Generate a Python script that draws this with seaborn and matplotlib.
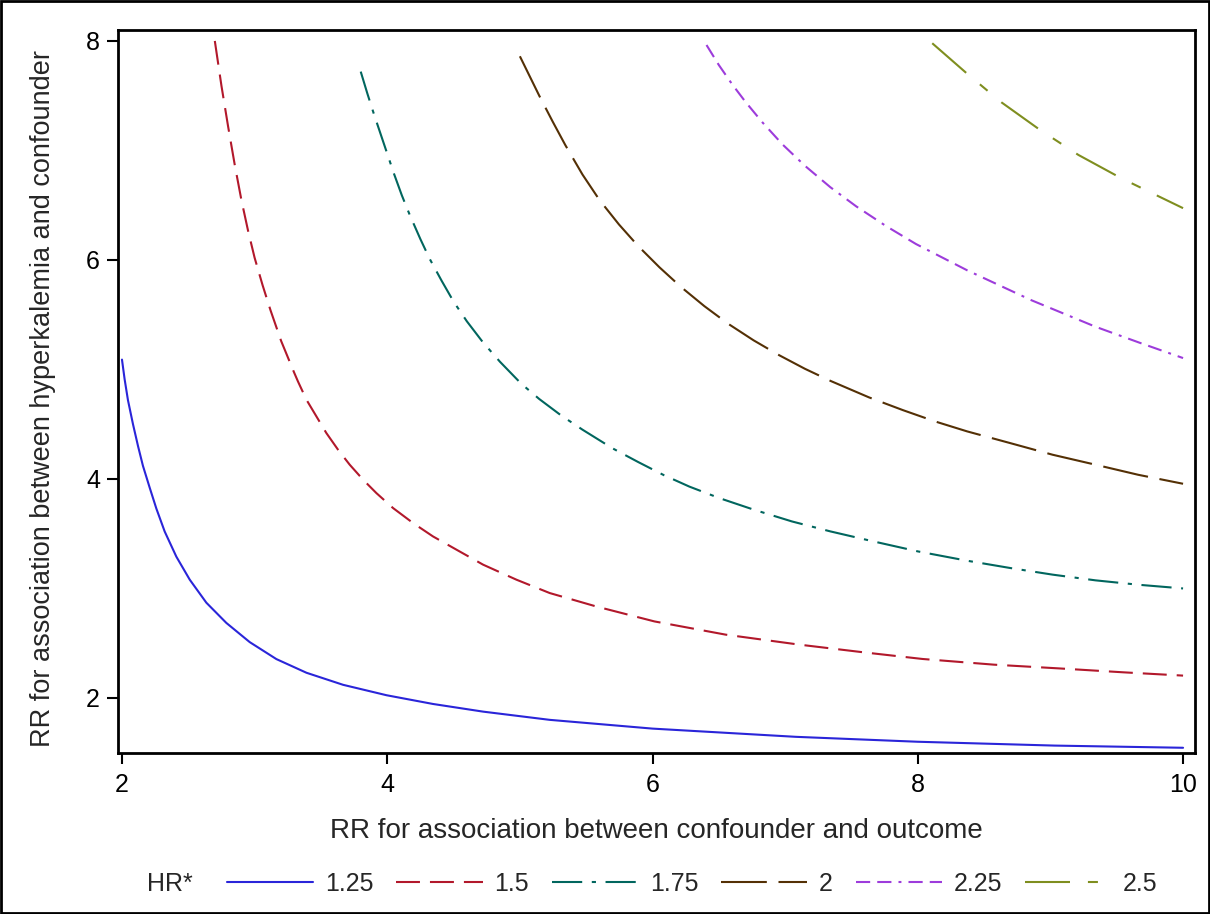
import matplotlib
matplotlib.use("Agg")
import matplotlib.pyplot as plt
from matplotlib.patches import Rectangle
import pandas as pd
import seaborn as sns

# curves, one pair of arrays per HR* level
hr125_x = [2.000, 2.020, 2.045, 2.083, 2.121, 2.158, 2.209, 2.259, 2.322, 2.410, 2.511, 2.636, 2.787,
           2.963, 3.164, 3.391, 3.667, 3.994, 4.345, 4.723, 5.225, 6.00, 7.08, 8.00, 9.03, 10.0]
hr125_y = [5.09, 4.91, 4.72, 4.50, 4.30, 4.12, 3.92, 3.73, 3.52, 3.29, 3.08, 2.87, 2.685,
           2.51, 2.355, 2.23, 2.12, 2.025, 1.945, 1.875, 1.80, 1.72, 1.645, 1.60, 1.565, 1.545]

hr150_x = [2.70, 2.75, 2.80, 2.85, 2.90, 2.95, 3.00, 3.06, 3.12, 3.20, 3.295, 3.327, 3.391, 3.466,
           3.541, 3.629, 3.717, 3.818, 3.918, 4.044, 4.195, 4.345, 4.522, 4.723, 4.974, 5.225,
           5.574, 6.014, 6.552, 7.106, 7.596, 8.035, 8.574, 9.063, 9.551, 10.0]
hr150_y = [8.00, 7.59, 7.22, 6.87, 6.55, 6.27, 6.02, 5.77, 5.54, 5.26, 4.98, 4.89, 4.723, 4.571,
           4.419, 4.267, 4.130, 3.993, 3.871, 3.734, 3.597, 3.475, 3.354, 3.217, 3.080, 2.958,
           2.836, 2.699, 2.578, 2.487, 2.416, 2.356, 2.304, 2.270, 2.234, 2.204]

hr175_x = [3.80, 3.85, 3.90, 3.95, 4.00, 4.05, 4.11, 4.17, 4.25, 4.32, 4.41, 4.50, 4.60, 4.72, 4.85,
           5.01, 5.146, 5.311, 5.472, 5.698, 5.891, 6.085, 6.278, 6.504, 6.762, 7.051, 7.341,
           7.664, 8.002, 8.373, 8.695, 9.017, 9.340, 9.662, 10.0]
hr175_y = [7.72, 7.52, 7.33, 7.15, 6.97, 6.79, 6.59, 6.41, 6.19, 6.01, 5.81, 5.62, 5.44, 5.25, 5.07,
           4.87, 4.73, 4.58, 4.45, 4.28, 4.155, 4.035, 3.93, 3.825, 3.72, 3.612, 3.521,
           3.43, 3.338, 3.253, 3.187, 3.126, 3.074, 3.034, 3.00]

hr200_x = [5.00, 5.146, 5.247, 5.343, 5.472, 5.601, 5.747, 5.891, 6.053, 6.213, 6.391, 6.568, 6.762,
           6.955, 7.149, 7.341, 7.632, 7.889, 8.131, 8.373, 8.695, 9.017, 9.340, 9.662, 10.0]
hr200_y = [7.86, 7.50, 7.264, 7.048, 6.78, 6.546, 6.324, 6.128, 5.932, 5.755, 5.578, 5.419, 5.266,
           5.13, 5.006, 4.896, 4.745, 4.628, 4.525, 4.434, 4.328, 4.221, 4.130, 4.038, 3.956]

hr225_x = [6.407, 6.50, 6.60, 6.70, 6.826, 6.98, 7.149, 7.34, 7.535, 7.76, 7.987, 8.373, 8.857,
           9.34, 9.67, 10.0]
hr225_y = [7.963, 7.78, 7.605, 7.445, 7.26, 7.055, 6.86, 6.665, 6.49, 6.31, 6.145, 5.905, 5.632,
           5.39, 5.245, 5.104]

hr250_x = [8.109, 8.373, 8.630, 8.921, 9.211, 9.533, 10.0]
hr250_y = [7.979, 7.70, 7.44, 7.188, 6.959, 6.747, 6.473]

hr_labels = ["1.25", "1.5", "1.75", "2", "2.25", "2.5"]
colors = ["#2A25D9", "#B2182B", "#01665E", "#543005", "#9D3CDB", "#7F8E1F"]
x_ticks = [2, 4, 6, 8, 10]
y_ticks = [2, 4, 6, 8]

curves = [(hr125_x, hr125_y), (hr150_x, hr150_y), (hr175_x, hr175_y),
          (hr200_x, hr200_y), (hr225_x, hr225_y), (hr250_x, hr250_y)]
frames = []
for lab, (xs, ys) in zip(hr_labels, curves):
    frames.append(pd.DataFrame({"x": xs, "y": ys, "HR": lab}))
df = pd.concat(frames, ignore_index=True)

# SAS-like line patterns (in units of line width)
dashes = {
    "1.25": "",
    "1.5": (11.5, 4.8),
    "1.75": (14.5, 4.6, 2.0, 4.6),
    "2": (22.0, 5.6),
    "2.25": (6.8, 3.4, 6.8, 3.4, 1.4, 3.4),
    "2.5": (21.6, 8.6, 4.8, 8.6),
}

sns.set_theme(style="ticks")
plt.rcParams["font.family"] = ["Liberation Sans", "DejaVu Sans"]

fig = plt.figure(figsize=(12.1, 9.14), dpi=100)
ax = fig.add_axes([118 / 1210, 1 - 752.7 / 914, (1195 - 118) / 1210, (752.7 - 30) / 914])

sns.lineplot(data=df, x="x", y="y", hue="HR", style="HR",
             palette=dict(zip(hr_labels, colors)), dashes=dashes,
             estimator=None, sort=False, linewidth=1.5, ax=ax)

ax.set_xlim(1.97, 10.09)
ax.set_ylim(1.50, 8.10)
ax.set_xticks(x_ticks)
ax.set_yticks(y_ticks)
ax.tick_params(direction="out", length=8, width=1.5, color="black",
               labelsize=18, labelcolor="black")
ax.tick_params(axis="x", pad=6.5)
ax.tick_params(axis="y", pad=5)
for sp in ax.spines.values():
    sp.set_color("black")
    sp.set_linewidth(2)

ax.set_xlabel("RR for association between confounder and outcome", fontsize=20)
ax.set_ylabel("RR for association between hyperkalemia and confounder", fontsize=19.5)
ax.xaxis.set_label_coords(0.5, -0.09)
ax.yaxis.set_label_coords(-0.058, 0.49)

# legend in one row below the axis label
leg = ax.get_legend()
handles = leg.legend_handles
labels = [t.get_text() for t in leg.texts]
leg.remove()
fig.legend(handles, labels, loc="center left",
           bbox_to_anchor=(227 / 1210, 1 - 884 / 914), ncol=6, frameon=False,
           handlelength=3.45, handletextpad=0.48, columnspacing=0.9,
           borderpad=0, borderaxespad=0, fontsize=18)
fig.text(147 / 1210, 1 - 884 / 914, "HR*", ha="left", va="center", fontsize=18)

# border round the whole picture
fig.patches.append(Rectangle((0.001, 0.001), 0.998, 0.998, transform=fig.transFigure,
                             fill=False, edgecolor="black", linewidth=2))

fig.savefig("out.png", dpi=100, facecolor="white")
